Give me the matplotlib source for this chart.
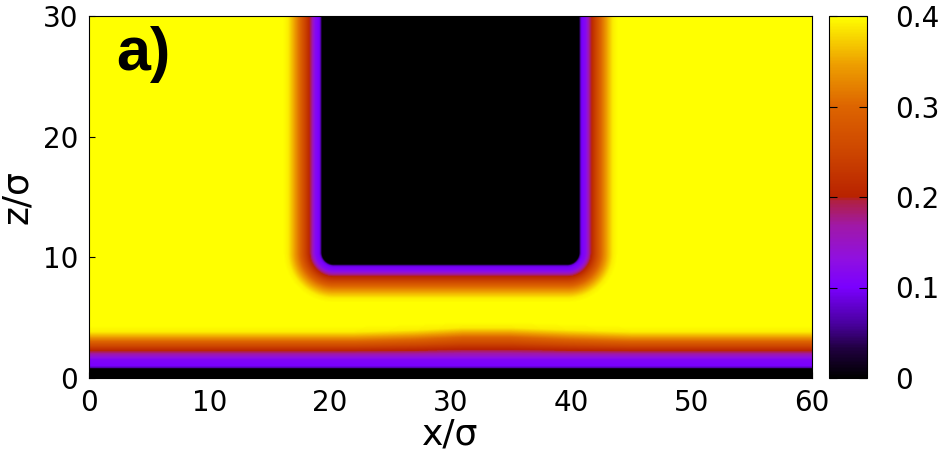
import numpy as np
import matplotlib
matplotlib.use("Agg")
from matplotlib import pyplot as plt
from matplotlib.colors import LinearSegmentedColormap

# density profile next to the substrate (z in sigma)
wall_z = [0.0, 0.72, 0.85, 1.0, 1.5, 1.9, 2.2, 2.6, 3.0, 3.4, 3.8, 4.3]
wall_rho = [0.0, 0.0, 0.08, 0.10, 0.11, 0.16, 0.20, 0.25, 0.30, 0.35, 0.39, 0.40]

# slight lift of the substrate layer under the block
lift_x = [0, 22, 27, 31, 35, 40, 45, 60]
lift_dz = [0, 0, 0.15, 0.35, 0.35, 0.15, 0, 0]

# density profile outside the block (distance in sigma)
obst_d = [0.0, 0.1, 0.25, 0.55, 0.8, 1.05, 1.4, 1.8, 2.3, 2.8, 3.2]
obst_rho = [0.0, 0.08, 0.10, 0.12, 0.17, 0.21, 0.25, 0.30, 0.35, 0.39, 0.40]

# block (black region)
block_x0, block_x1 = 19.3, 40.7
block_z0 = 9.4
corner_r = 1.0

# colour palette
pal_pos = [0.0, 0.08, 0.15, 0.25, 0.33, 0.42, 0.49, 0.5, 0.62, 0.75, 0.87, 1.0]
pal_col = ["#000000", "#200040", "#4a00a0", "#7a00ff", "#9010e0", "#a018a8",
           "#b02040", "#b82200", "#cc4400", "#dd6400", "#eea000", "#ffff00"]

cmap = LinearSegmentedColormap.from_list("dens", list(zip(pal_pos, pal_col)))

# %%
x = np.linspace(0, 60, 721)
z = np.linspace(0, 30, 361)
X, Z = np.meshgrid(x, z)

lift = np.interp(X, lift_x, lift_dz)
z_eff = Z - lift * np.clip((Z - 1.8) / 1.5, 0, 1)
rho_w = np.interp(z_eff, wall_z, wall_rho)

# distance to rounded block
cx0, cx1, cz0 = block_x0 + corner_r, block_x1 - corner_r, block_z0 + corner_r
dx = np.maximum(np.maximum(cx0 - X, X - cx1), 0)
dz = np.maximum(cz0 - Z, 0)
inside = (X > cx0) & (X < cx1) & (Z > cz0)
dist = np.sqrt(dx**2 + dz**2) - corner_r
dist[inside] = -1
rho_o = np.interp(dist, obst_d, obst_rho, left=0.0)

rho = rho_w * rho_o / 0.4

# %%
fig = plt.figure(figsize=(9.39, 4.53), dpi=100)
ax = fig.add_axes([89 / 939, 75 / 453, 723 / 939, 362 / 453])
cax = fig.add_axes([829 / 939, 75 / 453, 38 / 939, 362 / 453])

im = ax.imshow(rho, origin="lower", extent=[0, 60, 0, 30], aspect="auto",
               cmap=cmap, vmin=0, vmax=0.4, interpolation="bilinear")
ax.set_xlim(0, 60)
ax.set_ylim(0, 30)
ax.set_xticks(range(0, 61, 10))
ax.set_yticks(range(0, 31, 10))
ax.tick_params(labelsize=20, direction="in", length=4, width=0.8, pad=8)
ax.set_xlabel("x/σ", fontsize=26, labelpad=0)
ax.set_ylabel("z/σ", fontsize=26, labelpad=6)
for s in ax.spines.values():
    s.set_linewidth(0.8)

ax.text(0.037, 0.895, "a)", transform=ax.transAxes, fontsize=44,
        fontweight="bold", family="Liberation Sans", va="center", ha="left")

cb = fig.colorbar(im, cax=cax)
cb.set_ticks([0, 0.1, 0.2, 0.3, 0.4])
cb.set_ticklabels(["0", "0.1", "0.2", "0.3", "0.4"])
cax.tick_params(labelsize=20, direction="in", length=6, width=0.8, pad=20,
                left=True, right=True)
cb.outline.set_linewidth(0.8)

fig.savefig("out.png", dpi=100)
